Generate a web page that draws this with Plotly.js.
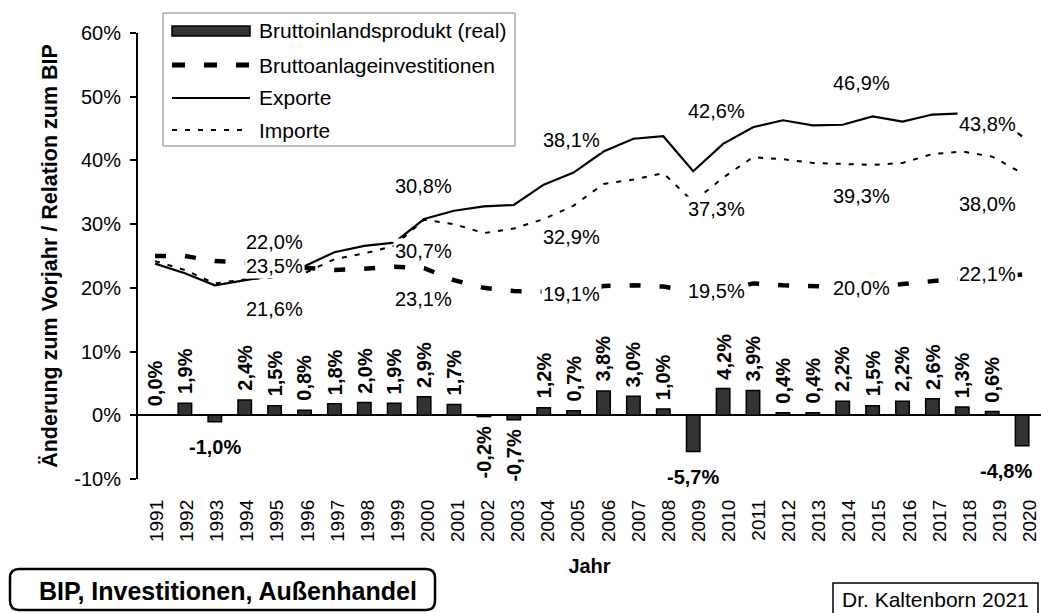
<!DOCTYPE html>
<html>
<head>
<meta charset="utf-8">
<script src="https://cdn.plot.ly/plotly-3.0.1.min.js"></script>
<style>
html,body{margin:0;padding:0;background:#ffffff;}
#chart{width:1041px;height:613px;}
</style>
</head>
<body>
<div id="chart"></div>
<script>
// ---------- data ----------
const years = [1991,1992,1993,1994,1995,1996,1997,1998,1999,2000,
               2001,2002,2003,2004,2005,2006,2007,2008,2009,2010,
               2011,2012,2013,2014,2015,2016,2017,2018,2019,2020];
const gdpGrowth = [0.0,1.9,-1.0,2.4,1.5,0.8,1.8,2.0,1.9,2.9,
                   1.7,-0.2,-0.7,1.2,0.7,3.8,3.0,1.0,-5.7,4.2,
                   3.9,0.4,0.4,2.2,1.5,2.2,2.6,1.3,0.6,-4.8];
const investment = [25.0,25.0,24.2,24.0,23.5,23.2,22.8,23.0,23.3,23.1,
                    21.2,20.0,19.5,19.4,19.1,20.3,20.4,20.2,19.4,19.5,
                    20.7,20.4,20.3,20.1,20.0,20.6,21.1,21.5,21.7,22.1];
const exportsShare = [23.8,22.3,20.4,21.2,22.0,23.4,25.6,26.6,27.1,30.8,
                      32.1,32.8,33.0,36.2,38.1,41.4,43.4,43.8,38.3,42.6,
                      45.2,46.3,45.5,45.6,46.9,46.1,47.2,47.4,46.9,43.8];
const importsShare = [24.2,22.8,20.7,21.3,21.6,22.3,24.5,25.4,26.6,30.7,
                      30.0,28.6,29.3,30.8,32.9,36.3,37.0,38.0,33.5,37.3,
                      40.5,40.2,39.6,39.4,39.3,39.6,41.0,41.4,40.6,38.0];
const yTickValues = [-10,0,10,20,30,40,50,60];
const yTickLabels = ['-10%','0%','10%','20%','30%','40%','50%','60%'];
const xTickLabels = years.map(String);
const labelYears = [1995,2000,2005,2010,2015,2020];
const seriesNames = ['Bruttoinlandsprodukt (real)','Bruttoanlageinvestitionen','Exporte','Importe'];
const yTitle = 'Änderung zum Vorjahr / Relation zum BIP';
const xTitle = 'Jahr';
const boxTitle = 'BIP, Investitionen, Außenhandel';
const author = 'Dr. Kaltenborn 2021';

// ---------- layout geometry (styling) ----------
const W = 1041, H = 613, ML = 138, MR = 0, MT = 33, MB = 134;
const PW = W - ML - MR, PH = H - MT - MB;
const px = v => (v - ML) / PW;           // pixel -> paper x
const py = v => (H - MB - v) / PH;       // pixel -> paper y
const FONT = 'Liberation Sans, Arial, sans-serif';
const fmt = v => v.toFixed(1).replace('.', ',') + '%';

// x offsets of the line labels per label year (style only)
const labelXShift = [0, -1, -2, -7, -11, -35];

// ---------- traces ----------
const traces = [
  {type:'bar', x: years, y: gdpGrowth, width: 0.45, name: seriesNames[0],
   marker:{color:'#333333', line:{color:'#000000', width:1.5}}, showlegend:false, hoverinfo:'skip'},
  {type:'scatter', mode:'lines', x: years, y: investment, name: seriesNames[1],
   line:{color:'#000000', width:4.5, dash:'11px,19px'}, showlegend:false, hoverinfo:'skip'},
  {type:'scatter', mode:'lines', x: years, y: exportsShare, name: seriesNames[2],
   line:{color:'#000000', width:2.2}, showlegend:false, hoverinfo:'skip'},
  {type:'scatter', mode:'lines', x: years, y: importsShare, name: seriesNames[3],
   line:{color:'#000000', width:2, dash:'5px,8px'}, showlegend:false, hoverinfo:'skip'},
  // invisible carrier so that the year-label axis is drawn
  {type:'scatter', mode:'none', x: years, y: gdpGrowth, xaxis:'x2', yaxis:'y',
   showlegend:false, hoverinfo:'skip'}
];

// ---------- annotations ----------
const annotations = [];

// bar value labels
years.forEach((yr, i) => {
  const v = gdpGrowth[i];
  const a = {x: yr, y: v, xref:'x', yref:'y', text: fmt(v), showarrow:false,
             font:{family:FONT, size:20, color:'#000', weight:700}};
  if (v >= 0) {
    a.textangle = -90; a.yanchor = 'bottom'; a.xanchor = 'center'; a.yshift = 7;
  } else if (v > -1) {
    a.textangle = -90; a.yanchor = 'top'; a.xanchor = 'center'; a.yshift = -8;
  } else {
    a.yanchor = 'middle'; a.xanchor = 'center'; a.yshift = -25;
    if (yr === years[years.length - 1]) a.xshift = -16;
  }
  annotations.push(a);
});

// line value labels
labelYears.forEach((yr, k) => {
  const i = years.indexOf(yr);
  const last = (k === labelYears.length - 1);
  const base = {x: yr, xref:'x', yref:'y', showarrow:false, xanchor:'center', yanchor:'middle',
                bgcolor:'#ffffff', borderpad:1, xshift: labelXShift[k],
                font:{family:FONT, size:20, color:'#000'}};
  annotations.push(Object.assign({}, base, {y: exportsShare[i], text: fmt(exportsShare[i]), yshift: last ? 12 : 33}));
  annotations.push(Object.assign({}, base, {y: importsShare[i], text: fmt(importsShare[i]), yshift: -31}));
  annotations.push(Object.assign({}, base, {y: investment[i], text: fmt(investment[i]), yshift: (yr === 2000) ? -31 : 0}));
});

// legend texts
const legendRows = [31, 65, 98, 130];
seriesNames.forEach((n, k) => {
  annotations.push({xref:'paper', yref:'paper', x: px(257), y: py(legendRows[k]), text: n,
    showarrow:false, xanchor:'left', yanchor:'middle', font:{family:FONT, size:21, color:'#000'}});
});

// bottom boxes texts
annotations.push({xref:'paper', yref:'paper', x: px(228), y: py(591), text: boxTitle, showarrow:false,
  xanchor:'center', yanchor:'middle', font:{family:FONT, size:25, color:'#000', weight:700}});
annotations.push({xref:'paper', yref:'paper', x: px(935), y: py(599), text: author, showarrow:false,
  xanchor:'center', yanchor:'middle', font:{family:FONT, size:21, color:'#000'}});

// ---------- shapes (legend & boxes) ----------
function roundRect(x0, y0, x1, y1, r) {
  const X = v => px(v), Y = v => py(v);
  return `M${X(x0+r)},${Y(y0)} L${X(x1-r)},${Y(y0)} Q${X(x1)},${Y(y0)} ${X(x1)},${Y(y0+r)} ` +
         `L${X(x1)},${Y(y1-r)} Q${X(x1)},${Y(y1)} ${X(x1-r)},${Y(y1)} L${X(x0+r)},${Y(y1)} ` +
         `Q${X(x0)},${Y(y1)} ${X(x0)},${Y(y1-r)} L${X(x0)},${Y(y0+r)} Q${X(x0)},${Y(y0)} ${X(x0+r)},${Y(y0)} Z`;
}
const shapes = [
  {type:'rect', xref:'paper', yref:'paper', x0:px(163), x1:px(515), y0:py(13), y1:py(146),
   line:{color:'#808080', width:1}, fillcolor:'rgba(255,255,255,0)', layer:'above'},
  {type:'rect', xref:'paper', yref:'paper', x0:px(172), x1:px(250), y0:py(26), y1:py(36),
   line:{color:'#000000', width:1.5}, fillcolor:'#333333'},
  {type:'line', xref:'paper', yref:'paper', x0:px(172), x1:px(250), y0:py(65), y1:py(65),
   line:{color:'#000000', width:5, dash:'13px,19px'}},
  {type:'line', xref:'paper', yref:'paper', x0:px(172), x1:px(250), y0:py(98), y1:py(98),
   line:{color:'#000000', width:2}},
  {type:'line', xref:'paper', yref:'paper', x0:px(172), x1:px(250), y0:py(130), y1:py(130),
   line:{color:'#000000', width:2, dash:'5px,8px'}},
  {type:'path', xref:'paper', yref:'paper', path: roundRect(10, 569, 435, 610, 9),
   line:{color:'#000000', width:2.5}, fillcolor:'rgba(255,255,255,0)'},
  {type:'rect', xref:'paper', yref:'paper', x0:px(833), x1:px(1038), y0:py(583), y1:py(616),
   line:{color:'#000000', width:1.5}, fillcolor:'rgba(255,255,255,0)'}
];

// ---------- layout ----------
const barRange = [1991 - 17/29.9, 1991 - 17/29.9 + PW/29.9];
const labRange = [1992 - 49/30.1, 1992 - 49/30.1 + PW/30.1];

const layout = {
  width: W, height: H,
  margin:{l:ML, r:MR, t:MT, b:MB, pad:0},
  paper_bgcolor:'#ffffff', plot_bgcolor:'#ffffff',
  font:{family:FONT, color:'#000'},
  showlegend:false,
  xaxis:{range: barRange, showticklabels:false, ticks:'', showline:false, showgrid:false, zeroline:false,
         fixedrange:true},
  xaxis2:{range: labRange, overlaying:'x', anchor:'y', side:'bottom',
          tickmode:'array', tickvals: years, ticktext: xTickLabels, tickangle:-90,
          ticks:'', showline:false, showgrid:false, zeroline:false, ticklabelstandoff:16,
          ticklabeloverflow:'allow',
          tickfont:{family:FONT, size:19, color:'#000'},
          title:{text: xTitle, standoff:17, font:{family:FONT, size:20, color:'#000', weight:700}},
          automargin:false, fixedrange:true},
  yaxis:{range:[-10,60], tickmode:'array', tickvals: yTickValues, ticktext: yTickLabels,
         ticks:'outside', ticklen:6, tickwidth:2, tickcolor:'#000',
         showline:true, linewidth:2, linecolor:'#000', showgrid:false,
         zeroline:true, zerolinecolor:'#000', zerolinewidth:2,
         tickfont:{family:FONT, size:20, color:'#000'}, ticklabelstandoff:5,
         title:{text: yTitle, standoff:11, font:{family:FONT, size:21.5, color:'#000', weight:700}},
         automargin:false, fixedrange:true},
  annotations: annotations,
  shapes: shapes
};

Plotly.newPlot('chart', traces, layout, {displayModeBar:false, staticPlot:true});
</script>
</body>
</html>
